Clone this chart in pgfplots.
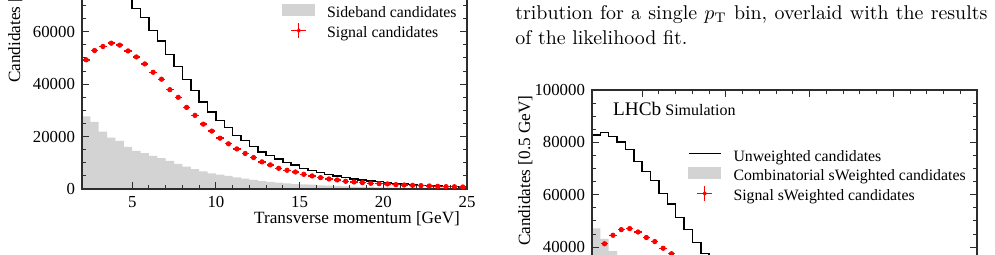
\documentclass[border=0pt]{standalone}
\usepackage{fontspec}
\usepackage{pgfplots}
\usepackage{pgfplotstable}
\pgfplotsset{compat=1.18}
\newfontfamily\rootfont{Liberation Serif}
\definecolor{histgray}{RGB}{211,211,211}
\definecolor{axisgray}{RGB}{45,45,45}

% Transverse-momentum histograms, 0.5 GeV bins from 2 to 25 GeV
% (last row repeats the final bin so that the step closes at 25 GeV)
\pgfplotstableread{
lo   unw    side
2.0  82900  27700
2.5  83800  25650
3.0  82300  21850
3.5  80100  19650
4.0  77200  18400
4.5  72700  16100
5.0  68900  14550
5.5  65500  13650
6.0  60400  12650
6.5  56400  11750
7.0  51300  10700
7.5  46800  9600
8.0  41800  8550
8.5  37500  7550
9.0  33200  6750
9.5  29400  6000
10.0 26200  5500
10.5 23500  5000
11.0 20400  4450
11.5 18500  3950
12.0 16200  3450
12.5 14200  3050
13.0 12800  2700
13.5 11500  2450
14.0 10200  2150
14.5 9200   1900
15.0 7900   1800
15.5 7000   1650
16.0 6300   1400
16.5 5600   1300
17.0 5000   1150
17.5 4300   1000
18.0 3800   900
18.5 3450   800
19.0 3060   700
19.5 2800   650
20.0 2430   580
20.5 2170   520
21.0 1900   470
21.5 1660   420
22.0 1400   380
22.5 1280   340
23.0 1150   300
23.5 1020   270
24.0 890    240
24.5 770    210
25.0 770    210
}\lefthist

\pgfplotstableread{
x     sig
2.25  49300
2.75  52850
3.25  54400
3.75  55650
4.25  54900
4.75  52700
5.25  50400
5.75  47750
6.25  44550
6.75  41900
7.25  37900
7.75  35000
8.25  31150
8.75  28100
9.25  24750
9.75  22100
10.25 19400
10.75 17250
11.25 15300
11.75 13550
12.25 12000
12.75 10350
13.25 9200
13.75 7900
14.25 7150
14.75 6500
15.25 5600
15.75 4980
16.25 4340
16.75 3830
17.25 3450
17.75 2940
18.25 2680
18.75 2430
19.25 2170
19.75 2040
20.25 1920
20.75 1660
21.25 1530
21.75 1400
22.25 1280
22.75 1150
23.25 1020
23.75 890
24.25 860
24.75 770
}\leftsig

\pgfplotstableread{
lo   unw    comb
2.0  82900  47200
2.5  83800  43200
3.0  82300  38500
3.5  80100  34000
4.0  77200  30500
4.5  72700  27500
5.0  68900  24800
5.5  65500  23000
6.0  60400  20500
6.5  56400  18800
7.0  51300  16500
7.5  46800  14300
8.0  41800  11800
8.5  37500  10200
9.0  33200  8500
9.5  29400  7000
10.0 26200  6200
10.5 23500  5500
11.0 20400  4200
11.5 18500  4000
12.0 16200  3200
12.5 14200  2700
13.0 12800  2500
13.5 11500  2400
14.0 10200  2100
14.5 9200   2000
15.0 7900   1600
15.5 7000   1400
16.0 6300   1400
16.5 5600   1300
17.0 5000   1200
17.5 4300   950
18.0 3800   850
18.5 3450   850
19.0 3060   760
19.5 2800   750
20.0 2430   630
20.5 2170   570
21.0 1900   480
21.5 1660   400
22.0 1400   280
22.5 1280   280
23.0 1150   260
23.5 1020   220
24.0 890    170
24.5 770    120
25.0 770    120
}\righthist

\pgfplotstableread{
x     sig
2.25  34000
2.75  41300
3.25  44550
3.75  46700
4.25  47100
4.75  45800
5.25  43700
5.75  42150
6.25  39600
6.75  37500
7.25  35000
7.75  32500
8.25  30000
8.75  27300
9.25  24700
9.75  22400
10.25 20000
10.75 18000
11.25 16200
11.75 14500
12.25 13000
12.75 11500
13.25 10300
13.75 9100
14.25 8100
14.75 7200
15.25 6300
15.75 5600
16.25 4900
16.75 4300
17.25 3800
17.75 3350
18.25 2950
18.75 2600
19.25 2300
19.75 2050
20.25 1800
20.75 1600
21.25 1420
21.75 1260
22.25 1120
22.75 1000
23.25 890
23.75 800
24.25 720
24.75 650
}\rightsig

\pgfplotsset{
  lhcbstyle/.style={
    scale only axis, width=192.5pt, height=131pt,
    xmin=2, xmax=25, ymin=0, ymax=100000,
    axis on top,
    axis line style={axisgray, line width=0.75pt},
    every tick/.style={axisgray, line width=0.5pt},
    major tick length=3.5pt, minor tick length=2pt,
    tick align=inside,
    xtick={5,10,15,20,25}, minor x tick num=4,
    ytick={0,20000,40000,60000,80000,100000}, minor y tick num=3,
    scaled y ticks=false,
    /pgf/number format/fixed,
    /pgf/number format/precision=0,
    /pgf/number format/1000 sep={},
    /pgf/number format/assume math mode=true,
    tick label style={font=\rootfont\fontsize{8.4}{10}\selectfont},
    label style={font=\rootfont\fontsize{8.6}{10}\selectfont},
    xlabel={Transverse momentum [GeV]},
    xlabel style={at={(rel axis cs:1,0)}, anchor=base east, yshift=-17.5pt},
    ylabel={Candidates [0.5 GeV]},
    ylabel style={at={(axis description cs:-0.161,1.0065)}, anchor=base east},
    legend style={draw=none, fill=none, inner sep=0pt, outer sep=0pt,
      anchor=north west, font=\rootfont\fontsize{7.9}{9}\selectfont,
      row sep=0pt,
      nodes={inner sep=0pt, outer sep=0pt, text height=6.3pt, text depth=2.3pt},
      /tikz/every odd column/.append style={column sep=6pt}},
    legend cell align=left,
  },
  unwimage/.style={legend image code/.code={
      \draw[black, line width=0.75pt] (0pt,2.15pt) -- (16pt,2.15pt);}},
  combimage/.style={legend image code/.code={
      \fill[histgray] (0pt,-0.8pt) rectangle (16pt,4.9pt);}},
  sigimage/.style={legend image code/.code={
      \draw[red, line width=0.55pt] (4.2pt,1.6pt) -- (11.8pt,1.6pt)
        (8pt,-2.2pt) -- (8pt,5.4pt);
      \fill[red] (8pt,1.6pt) circle (0.9pt);}},
  sigpoints/.style={only marks, mark=*, red, mark size=1.1pt,
    error bars/x dir=both, error bars/x fixed=0.22,
    error bars/error mark=none,
    error bars/error bar style={red, line width=0.7pt}},
}

\begin{document}
\begin{tikzpicture}
% visible window; the axes run past it and are cut at its edges
\clip (0,0) rectangle (497.5pt,127.5pt);

% ---- left figure: sideband and signal candidates
\begin{scope}[overlay]
\begin{axis}[lhcbstyle, at={(41pt,33pt)}, anchor=south west,
  legend style={at={(axis cs:13.97,70735)}}]
  \addplot[const plot, draw=none, fill=histgray, forget plot]
    table[x=lo, y=side]{\lefthist} \closedcycle;
  \addplot[const plot, black, line width=0.75pt, forget plot]
    table[x=lo, y=unw]{\lefthist};
  \addplot[sigpoints, forget plot] table[x=x, y=sig]{\leftsig};
  \addlegendimage{combimage}
  \addlegendentry{Sideband candidates}
  \addlegendimage{sigimage}
  \addlegendentry{Signal candidates}
  \node[anchor=base west, inner sep=0pt] at (axis cs:3.24,90340)
    {\rootfont\fontsize{9.6}{10}\selectfont LHCb};
  \node[anchor=base west, inner sep=0pt] at (axis cs:6.36,90340)
    {\rootfont\fontsize{8}{10}\selectfont Simulation};
\end{axis}
\end{scope}

% ---- caption text
\node[anchor=base west, inner sep=0pt] at (257.5pt,117.5pt)
  {\fontsize{9.95}{12.5}\selectfont\makebox[236pt][s]{tribution for a single $p_{\mathrm{T}}$ bin, overlaid with the results}};
\node[anchor=base west, inner sep=0pt] at (257.5pt,105pt)
  {\fontsize{9.95}{12.5}\selectfont of the likelihood fit.};

% ---- right figure: sWeighted candidates
\begin{scope}[overlay]
\begin{axis}[lhcbstyle, at={(296pt,82.5pt)}, anchor=north west,
  legend style={at={(axis cs:7.735,77330)}}]
  \addplot[const plot, draw=none, fill=histgray, forget plot]
    table[x=lo, y=comb]{\righthist} \closedcycle;
  \addplot[const plot, black, line width=0.75pt, forget plot]
    table[x=lo, y=unw]{\righthist};
  \addplot[sigpoints, forget plot] table[x=x, y=sig]{\rightsig};
  \addlegendimage{unwimage}
  \addlegendentry{Unweighted candidates}
  \addlegendimage{combimage}
  \addlegendentry{Combinatorial sWeighted candidates}
  \addlegendimage{sigimage}
  \addlegendentry{Signal sWeighted candidates}
  \node[anchor=base west, inner sep=0pt] at (axis cs:3.24,90340)
    {\rootfont\fontsize{9.6}{10}\selectfont LHCb};
  \node[anchor=base west, inner sep=0pt] at (axis cs:6.36,90340)
    {\rootfont\fontsize{8}{10}\selectfont Simulation};
\end{axis}
\end{scope}

\path (0,0) rectangle (497.5pt,127.5pt);
\end{tikzpicture}
\end{document}
